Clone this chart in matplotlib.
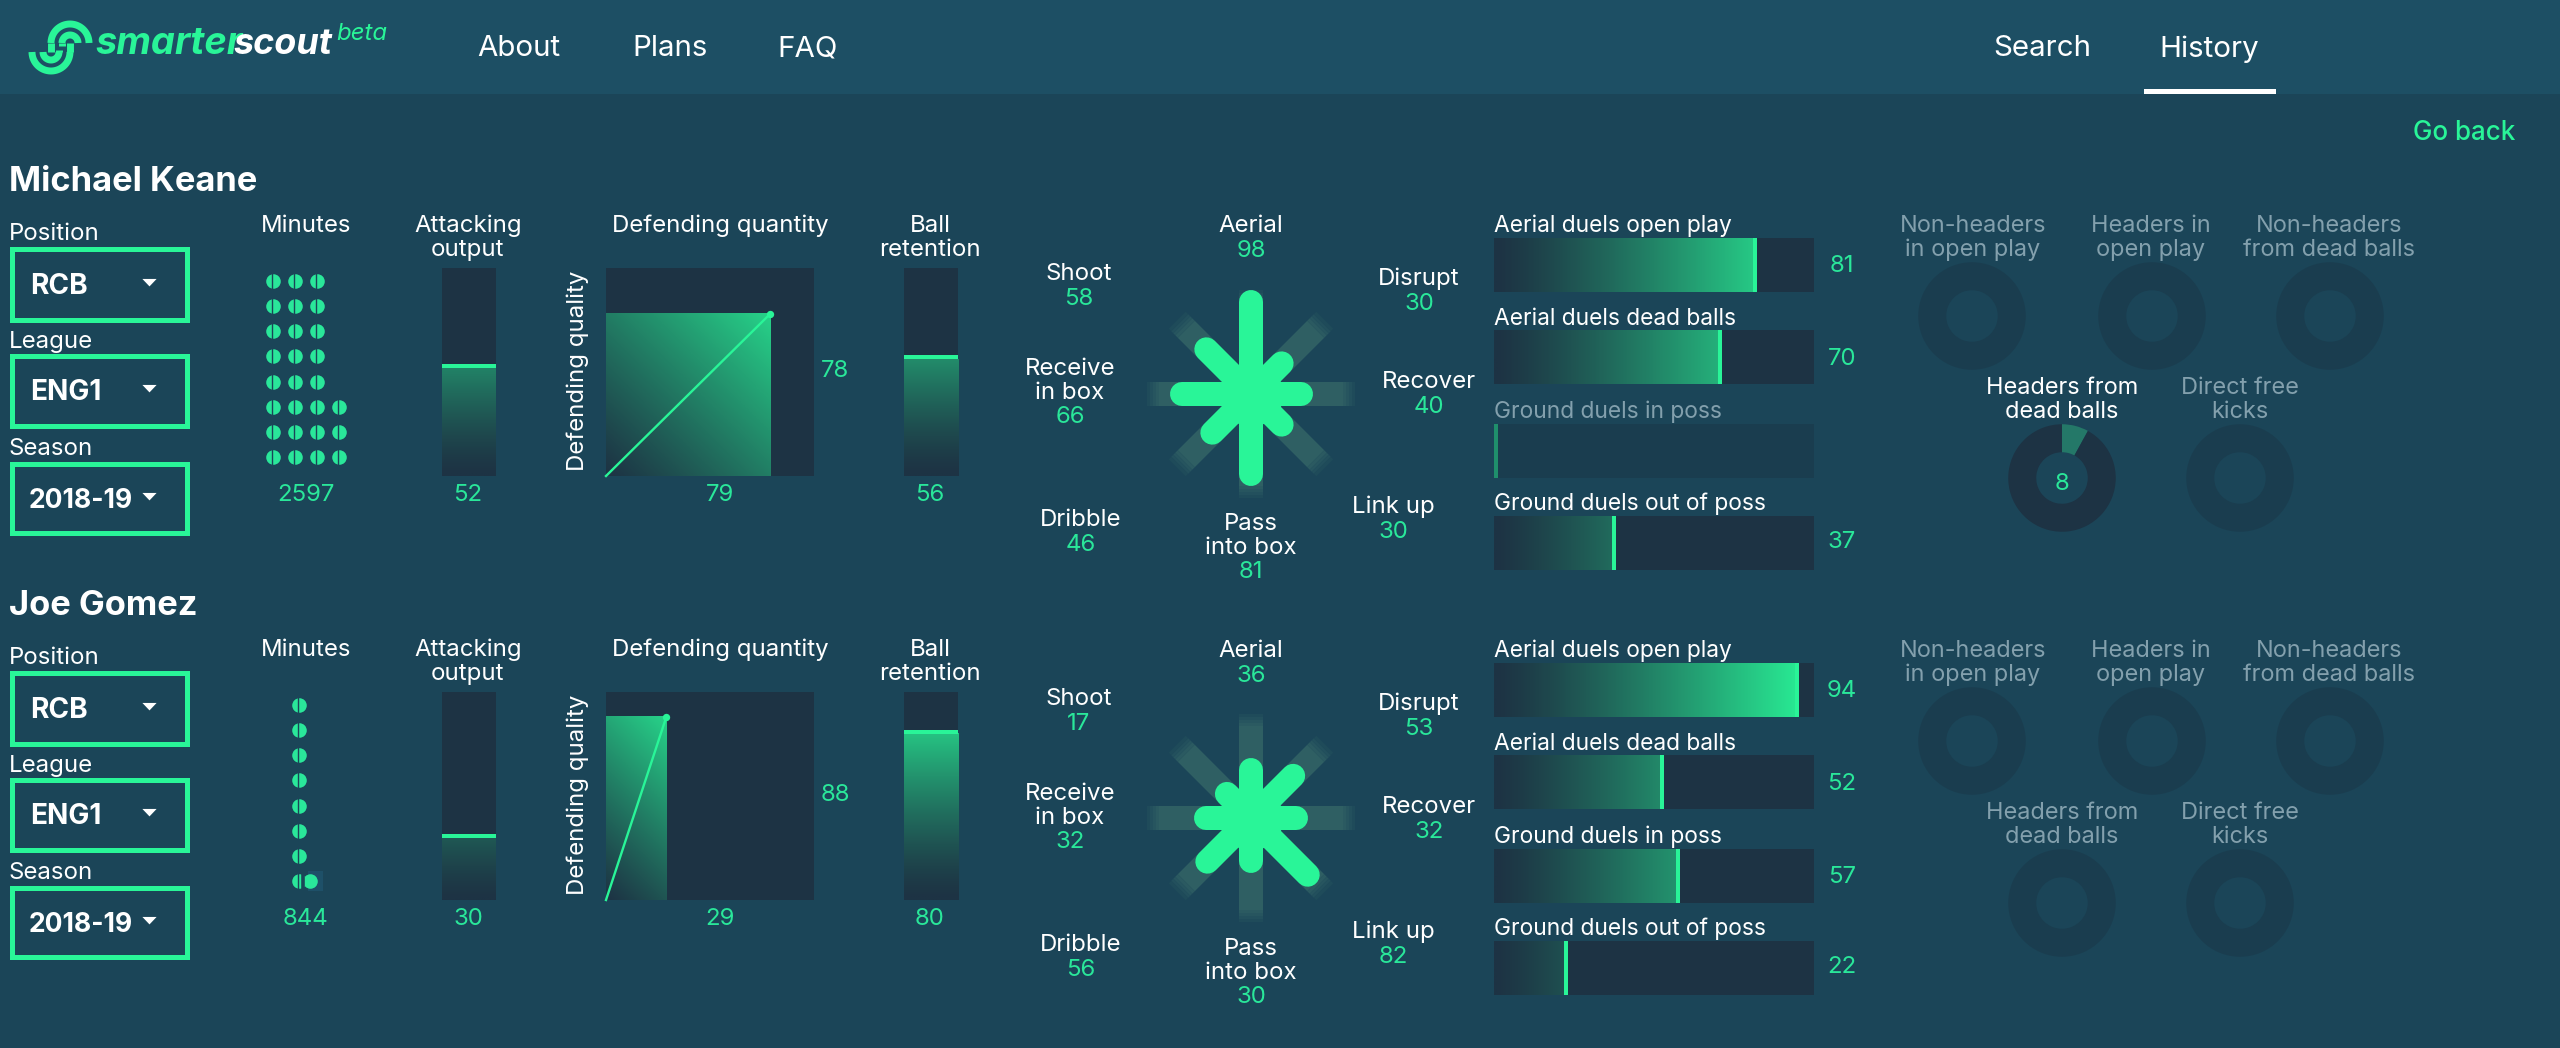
import numpy as np
import matplotlib
matplotlib.use("Agg")
import matplotlib.pyplot as plt
from matplotlib.colors import LinearSegmentedColormap, to_rgb
from matplotlib.patches import Rectangle

W, H = 2560, 1048
BG, NAV, PANEL, DIM = "#1b4558", "#1d4f64", "#1d3344", "#1a3d4f"
GREEN, GRAY, GHOST = "#29f598", "#83a0ad", "#2f5f63"
VAL = "#2ae79a"
plt.rcParams["font.family"] = ["Inter", "DejaVu Sans"]

# ---- data ----
players = ["Michael Keane", "Joe Gomez"]
positions = ["RCB", "RCB"]
leagues = ["ENG1", "ENG1"]
seasons = ["2018-19", "2018-19"]
minutes = [2597, 844]
minute_rows = [[3, 3, 3, 3, 3, 4, 4, 4], [1, 1, 1, 1, 1, 1, 1, 1]]
attacking = [52, 30]
def_quantity = [79, 29]
def_quality = [78, 88]
retention = [56, 80]
radar_names = ["Aerial", "Disrupt", "Recover", "Link up", "Pass\ninto box", "Dribble", "Receive\nin box", "Shoot"]
radar_keane = [98, 30, 40, 30, 81, 46, 66, 58]
radar_gomez = [36, 53, 32, 82, 30, 56, 32, 17]
duel_names = ["Aerial duels open play", "Aerial duels dead balls", "Ground duels in poss", "Ground duels out of poss"]
duels_keane = [81, 70, 0, 37]
duels_gomez = [94, 52, 57, 22]
set_names = ["Non-headers\nin open play", "Headers in\nopen play", "Non-headers\nfrom dead balls",
             "Headers from\ndead balls", "Direct free\nkicks"]
sets_keane = [None, None, None, 8, None]
sets_gomez = [None, None, None, None, None]

# ---- layout ----
ROW = 424
cmap = LinearSegmentedColormap.from_list("g", [PANEL, GREEN])
fig = plt.figure(figsize=(W / 100, H / 100), dpi=100, facecolor=BG)

def axpx(x0, y0, x1, y1, z=2, face=None, **kw):
    ax = fig.add_axes([x0 / W, 1 - y1 / H, (x1 - x0) / W, (y1 - y0) / H], zorder=z, **kw)
    if face is None:
        ax.patch.set_alpha(0)
    else:
        ax.set_facecolor(face)
    return ax

def clean(ax):
    ax.set_xticks([]); ax.set_yticks([])
    for s in ax.spines.values():
        s.set_visible(False)

bg = axpx(0, 0, W, H, z=1)
bg.set_xlim(0, W); bg.set_ylim(H, 0); bg.axis("off")
ov = axpx(0, 0, W, H, z=10)
ov.set_xlim(0, W); ov.set_ylim(H, 0); ov.axis("off")

def T(x, y, s, px=24, c="white", ha="center", w="normal", **kw):
    return ov.text(x, y + 8, s, fontsize=px * 0.72, color=c, ha=ha, va="center", fontweight=w,
                   linespacing=0.98, **kw)

def two(x, y, s, px=24, c="white", gap=24):
    for i, line in enumerate(s.split("\n")):
        T(x, y + i * gap, line, px, c)

# ---- header ----
bg.add_patch(Rectangle((0, 0), W, 94, fc=NAV, ec="none"))
bg.add_patch(Rectangle((2144, 89), 132, 5, fc="white", ec="none"))
for (cx, cy, r, a, b) in [(70, 43, 19, 180, 360), (70, 43, 8, 180, 360), (51, 52, 19, 0, 180), (51, 52, 8, 0, 180)]:
    th = np.radians(np.linspace(a, b, 40))
    ov.plot(cx + r * np.cos(th), cy + r * np.sin(th), color=GREEN, lw=5, solid_capstyle="butt")
for x, y0, y1 in [(51, 43, 52), (70, 43, 52), (62, 43, 46), (59, 50, 52)]:
    ov.plot([x, x], [y0, y1], color=GREEN, lw=5, solid_capstyle="butt")
T(95, 36, "smarter", 38, GREEN, "left", "bold", style="italic")
T(233, 36, "scout", 36, "white", "left", "bold", style="italic")
T(336, 26, "beta", 24, GREEN, "left", style="italic")
for x, s in [(519, "About"), (670, "Plans"), (808, "FAQ"), (2042, "Search"), (2209, "History")]:
    T(x, 41, s, 29.5)
T(2464, 125, "Go back", 26, GREEN, w="medium")

TRI = [(-1, 0.5), (1, 0.5), (0, -0.55)]

# ---- gradient bars ----
def vbar(x0, x1, dy, v):
    ax = axpx(x0, 268 + dy, x1, 476 + dy, face=PANEL); clean(ax)
    t = np.linspace(0, v / 100, 200)[::-1].reshape(-1, 1) ** 1.35
    ax.imshow(t, extent=(0, 1, 0, v), aspect="auto", cmap=cmap, vmin=0, vmax=1)
    ax.axhline(v + 1, color=GREEN, lw=4 * 0.72)
    ax.set_xlim(0, 1); ax.set_ylim(0, 100)

# ---- player rows ----
for i, name in enumerate(players):
    dy = i * ROW
    T(9, 174 + dy, name, 34.5, "white", "left", "bold")
    for lab, yl, y0, y1, val, px, tx in [("Position", 226, 249, 320, positions[i], 28, 30),
                                         ("League", 334, 356, 426, leagues[i], 28, 30),
                                         ("Season", 441, 464, 533, seasons[i], 26.5, 29)]:
        T(9, yl + dy, lab, 24, "white", "left")
        bg.add_patch(Rectangle((12, y0 + dy), 175, y1 - y0, fc="none", ec=GREEN, lw=3.6))
        T(tx, (y0 + y1) / 2 + dy - 6, val, px, "white", "left", "bold")
        ov.scatter([149], [(y0 + y1) / 2 + dy - 3], marker=TRI, s=105, color="white", linewidths=0)

    # minutes waffle
    T(306, 218 + dy, "Minutes", 24)
    ax = axpx(262, 268 + dy, 351, 476 + dy); clean(ax)
    ax.set_xlim(-0.5, 3.545); ax.set_ylim(7.753, -0.517)
    xoff = 0 if i == 0 else 1.18
    for r, n in enumerate(minute_rows[i]):
        xs = np.arange(n) + xoff
        ax.scatter(xs, [r] * n, s=110, color=VAL, linewidths=0)
        ax.scatter(xs - 0.03, [r] * n, s=150, marker="|", color=BG, linewidths=1.0)
    if i == 1:
        ax.add_patch(Rectangle((1.6, 6.6), 0.65, 0.8, fc="#1e5068", ec="none"))
        ax.scatter([xoff + 0.5], [7], s=110, color=VAL, linewidths=0)
        ax.scatter([xoff + 0.2], [7], s=150, marker="|", color=BG, linewidths=2.6)
    T(306, 487 + dy, f"{minutes[i]}", 24, VAL)

    # attacking output, ball retention
    two(468, 218 + dy, "Attacking\noutput")
    vbar(442, 496, dy, attacking[i])
    T(468, 487 + dy, f"{attacking[i]}", 24, VAL)
    two(930, 218 + dy, "Ball\nretention")
    vbar(904, 958, dy, retention[i])
    T(930, 487 + dy, f"{retention[i]}", 24, VAL)

    # defending square
    T(720, 218 + dy, "Defending quantity", 24)
    T(578, 363 + dy, "Defending quality", 24, rotation=90)
    ax = axpx(606, 268 + dy, 814, 476 + dy, face=PANEL); clean(ax)
    xq, yq = def_quantity[i], def_quality[i]
    gx, gy = np.meshgrid(np.linspace(0, xq, 120), np.linspace(yq, 0, 120))
    ax.imshow((((gx + gy) / (xq + yq)) ** 1.1) * 0.82, extent=(0, xq, 0, yq), aspect="auto", cmap=cmap, vmin=0, vmax=1)
    ax.plot([0, xq], [0, yq], color=GREEN, lw=1.7, clip_on=False)
    ax.scatter([xq], [yq], s=28, color=GREEN, linewidths=0, clip_on=False, zorder=4)
    ax.set_xlim(0, 100); ax.set_ylim(0, 100)
    T(720, 487 + dy, f"{xq}", 24, VAL)
    T(835, 363 + dy, f"{yq}", 24, VAL)

    # radar: tip radius in pixels is about 34 + 0.71 * value, spokes run from the axis origin
    cx, cy = 1251, 394 + dy
    rmax = 120
    R = (rmax + 31) * 0.71
    ax = axpx(cx - R, cy - R, cx + R, cy + R, z=3, projection="polar")
    ax.set_theta_zero_location("N"); ax.set_theta_direction(-1)
    ax.set_ylim(-31, rmax); ax.axis("off")
    vals = radar_keane if i == 0 else radar_gomez
    ghost, base = np.array(to_rgb(GHOST)), np.array(to_rgb(BG))
    for k, v in enumerate(vals):
        th = np.radians(45 * k)
        ax.plot([th, th], [-31, 98], color=GHOST, lw=24 * 0.72, solid_capstyle="butt", zorder=1)
        for a, b, f in [(98, 103, .8), (103, 107, .62), (107, 111, .42), (111, 116, .22)]:
            ax.plot([th, th], [a, b], color=tuple(base + (ghost - base) * f), lw=24 * 0.72,
                    solid_capstyle="butt", zorder=1)
    for k, v in enumerate(vals):
        th = np.radians(45 * k)
        ax.plot([th, th], [-31, v], color=GREEN, lw=24 * 0.72, solid_capstyle="round", zorder=3)
    ax.scatter([0], [-31], s=(64 * 0.72) ** 2, color=GREEN, linewidths=0, zorder=3)
    rd = 425 * i
    spots = [(1251, 218), (1419, 271), (1429, 374), (1393, 499), (1251, 516), (1081, 512), (1070, 361), (1079, 266)]
    for (sx, sy), lab, v in zip(spots, radar_names, vals):
        lines = lab.split("\n")
        two(sx, sy + rd, lab)
        T(sx, sy + rd + 24 * len(lines) + (1 if len(lines) == 1 else 0), f"{v}", 24, VAL)

    # horizontal duels
    duels = duels_keane if i == 0 else duels_gomez
    dd = 425 * i
    for k, (nm, v, y0, ty, vy) in enumerate(zip(duel_names, duels, [238, 330, 424, 516], [218, 311, 404, 496], [258, 351, 444, 534])):
        active = v > 0
        ax = axpx(1494, y0 + dd, 1814, y0 + 54 + dd, face=PANEL if active else DIM); clean(ax)
        t = np.linspace(0, v / 100, 200).reshape(1, -1) ** 1.25
        if active:
            ax.imshow(t, extent=(0, v, 0, 1), aspect="auto", cmap=cmap, vmin=0, vmax=1)
        ax.axvline(v + 0.6, color=GREEN if active else "#1f8f6c", lw=4 * 0.72)
        ax.set_xlim(0, 100); ax.set_ylim(0, 1)
        T(1494, ty + dd, nm, 22.8, "white" if active else GRAY, "left")
        if active:
            T(1842, vy + dd, f"{v}", 24, VAL)

    # set-piece donuts
    setv = sets_keane if i == 0 else sets_gomez
    dd = 425 * i
    spots = [(1972, 316), (2152, 316), (2330, 316), (2062, 478), (2240, 478)]
    tpos = [(1973, 218), (2151, 218), (2329, 218), (2062, 380), (2240, 380)]
    for (sx, sy), (tx, ty), nm, v in zip(spots, tpos, set_names, setv):
        ax = axpx(sx - 56, sy - 56 + dd, sx + 56, sy + 56 + dd)
        w = dict(width=0.5, linewidth=0)
        if v is None:
            ax.pie([100], radius=0.96, colors=[DIM], wedgeprops=w)
        else:
            ax.pie([v, 100 - v], radius=0.96, colors=["#247868", PANEL], startangle=90,
                   counterclock=False, wedgeprops=w)
            T(sx, sy + dd - 2, f"{v}", 24, VAL)
        ax.set_xlim(-1, 1); ax.set_ylim(-1, 1)
        two(tx, ty + dd, nm, 23.5, GRAY if v is None else "white")

fig.savefig("out.png", dpi=100, facecolor=BG)
